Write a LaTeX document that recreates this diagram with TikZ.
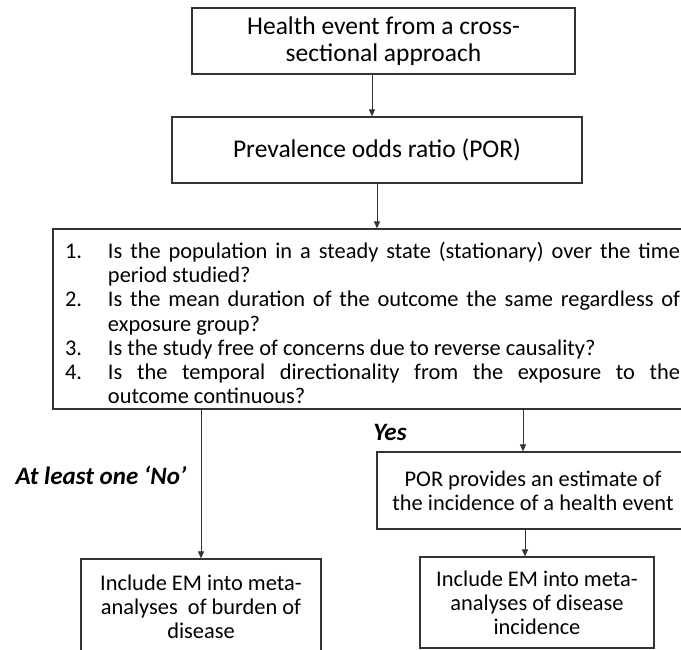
\documentclass[tikz,border=0pt]{standalone}
\usepackage{fontspec}
\setmainfont{Carlito}
\usetikzlibrary{arrows.meta}
\newcommand{\qitem}[2]{\par\hangindent=43pt\hangafter=1\noindent\makebox[43pt][l]{#1}#2}
\begin{document}
\begin{tikzpicture}[
  x=1pt, y=-1pt,
  every node/.style={font=\fontsize{22.4}{24.2}\selectfont, inner sep=0pt},
  box/.style={draw=black!80, line width=1.2pt, align=center},
  bigbox/.style={box, font=\fontsize{25.5}{27}\selectfont},
  arr/.style={draw=black!80, line width=1pt, -{Triangle[length=7pt,width=6pt]}},
  lbl/.style={font=\fontsize{25}{27}\selectfont\bfseries\itshape}
  ]
\clip (0,0) rectangle (681,650);

% Top boxes
\node[bigbox, minimum width=383pt, minimum height=66pt] (event) at (383.5,41)
  {Health event from a cross-\\sectional approach};
\node[bigbox, minimum width=410pt, minimum height=66pt] (por) at (377,150)
  {Prevalence odds ratio (POR)};

% Questions
\node[box, text width=615pt, inner xsep=12pt, minimum height=180pt, align=justify] (quest) at (372.5,319)
  {\qitem{1.}{Is the population in a steady state (stationary) over the time\linebreak period studied?}
   \qitem{2.}{Is the mean duration of the outcome the same regardless of\linebreak exposure group?}
   \qitem{3.}{Is the study free of concerns due to reverse causality?}
   \qitem{4.}{Is the temporal directionality from the exposure to the\linebreak outcome continuous?}\par};

% Branches
\node[box, minimum width=312pt, minimum height=77pt] (incid) at (533,490.5)
  {POR provides an estimate of\\the incidence of a health event};
\node[box, minimum width=240pt, minimum height=96pt] (burden) at (201,607)
  {Include EM into meta-\\analyses\ \ of burden of\\disease};
\node[box, minimum width=234pt, minimum height=91pt] (meta) at (537,602.5)
  {Include EM into meta-\\analyses of disease\\incidence};

% Labels
\node[lbl] (yes) at (390,432) {Yes};
\node[lbl] (no) at (101,475) {At least one ‘No’};

% Arrows
\draw[arr] ([xshift=-11.5pt]event.south) -- ([xshift=-11.5pt]event.south |- por.north);
\draw[arr] (por.south) -- (por.south |- quest.north);
\draw[arr] (burden.north |- quest.south) -- (burden.north);
\draw[arr] ([xshift=-10pt]incid.north |- quest.south) -- ([xshift=-10pt]incid.north);
\draw[arr] ([xshift=-12pt]meta.north |- incid.south) -- ([xshift=-12pt]meta.north);

\end{tikzpicture}
\end{document}
